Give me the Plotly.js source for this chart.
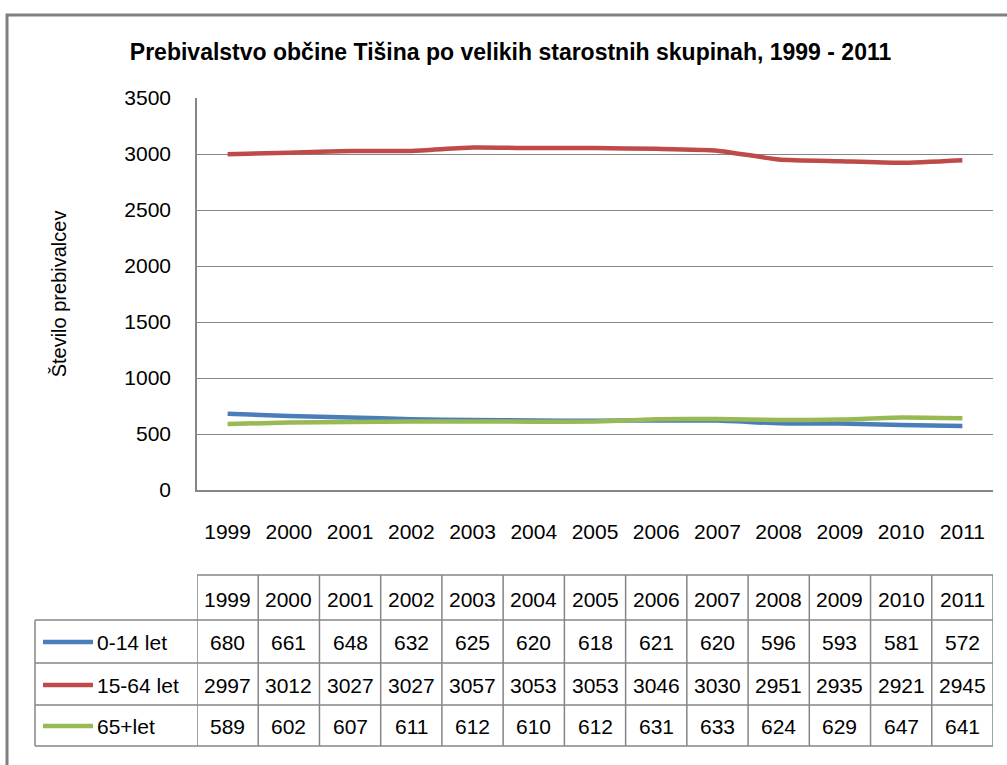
<!DOCTYPE html>
<html>
<head>
<meta charset="utf-8">
<script src="https://cdn.plot.ly/plotly-3.0.1.min.js"></script>
<style>
body{margin:0;background:#fff;}
#chart{width:1007px;height:765px;}
</style>
</head>
<body>
<div id="chart"></div>
<script>
var years = ['1999','2000','2001','2002','2003','2004','2005','2006','2007','2008','2009','2010','2011'];
var names = ['0-14 let', '15-64 let', '65+let'];
var kids = [680, 661, 648, 632, 625, 620, 618, 621, 620, 596, 593, 581, 572];
var adults = [2997, 3012, 3027, 3027, 3057, 3053, 3053, 3046, 3030, 2951, 2935, 2921, 2945];
var seniors = [589, 602, 607, 611, 612, 610, 612, 631, 633, 624, 629, 647, 641];
var colors = ['#4A7EBB', '#BE4B48', '#98B954'];
var series = [kids, adults, seniors];

var font = 'Liberation Sans, Arial, sans-serif';
var gridCol = '#868686';

// plot area in pixels, used to place the table under it
var T = 98, B = 490, L = 197, R = 993;
function py(p){ return (B - p) / (B - T); }
function px(p){ return (p - L) / (R - L); }

var data = [];
for (var s = 0; s < 3; s++) {
  data.push({
    x: years,
    y: series[s],
    name: names[s],
    type: 'scatter',
    mode: 'lines',
    line: {color: colors[s], width: 4.5, shape: 'spline', smoothing: 0.5},
    hoverinfo: 'x+y+name'
  });
}

// table rows (pixel y)
var rowLines = [575, 620, 663, 705, 746];
var rowMid = [599, 642, 685, 726];

var shapes = [];
var ann = [];

// outer border
shapes.push({type:'rect', xref:'paper', yref:'paper', x0: px(7), x1: px(1015), y0: py(775), y1: py(15),
  line:{color:'#7f7f7f', width:3}, layer:'below'});

// horizontal table lines
shapes.push({type:'line', xref:'paper', yref:'paper', x0:0, x1:1, y0:py(rowLines[0]), y1:py(rowLines[0]), line:{color:gridCol,width:1.5}});
for (var r = 1; r < rowLines.length; r++) {
  shapes.push({type:'line', xref:'paper', yref:'paper', x0:px(35), x1:1, y0:py(rowLines[r]), y1:py(rowLines[r]), line:{color:gridCol,width:1.5}});
}
// vertical table lines
shapes.push({type:'line', xref:'paper', yref:'paper', x0:px(35), x1:px(35), y0:py(rowLines[1]), y1:py(rowLines[4]), line:{color:gridCol,width:1.5}});
for (var i = 0; i <= years.length; i++) {
  shapes.push({type:'line', xref:'x', yref:'paper', x0:i-0.5, x1:i-0.5, y0:py(rowLines[0]), y1:py(rowLines[4]), line:{color:gridCol,width:1.5}});
}

var cellFont = {family:font, size:21, color:'#000'};
// header cells
for (var i = 0; i < years.length; i++) {
  ann.push({xref:'x', yref:'paper', x:i, y:py(rowMid[0]), yanchor:'middle', text:years[i], showarrow:false, font:cellFont});
}
// legend + value cells
for (var s = 0; s < 3; s++) {
  var yy = py(rowMid[s+1]);
  shapes.push({type:'line', xref:'paper', yref:'paper', x0:px(43), x1:px(93), y0:yy, y1:yy, line:{color:colors[s], width:4.5}});
  ann.push({xref:'paper', yref:'paper', x:px(95), y:yy, xanchor:'left', yanchor:'middle', text:names[s], showarrow:false, font:cellFont});
  for (var i = 0; i < years.length; i++) {
    ann.push({xref:'x', yref:'paper', x:i, y:yy, yanchor:'middle', text:String(series[s][i]), showarrow:false, font:cellFont});
  }
}

var layout = {
  width: 1007,
  height: 765,
  margin: {l: L, r: 1007 - R, t: T, b: 765 - B},
  paper_bgcolor: '#fff',
  plot_bgcolor: '#fff',
  showlegend: false,
  title: {
    text: '<b>Prebivalstvo občine Tišina po velikih starostnih skupinah, 1999 - 2011</b>',
    x: 0.507, xanchor: 'center', y: 0.932, yanchor: 'middle',
    font: {family: font, size: 23, color: '#000'}
  },
  xaxis: {
    type: 'category',
    showline: true, linecolor: gridCol, linewidth: 1.5,
    showgrid: false, ticks: '',
    ticklabelstandoff: 22,
    tickfont: {family: font, size: 21, color: '#000'},
    range: [-0.5, years.length - 0.5]
  },
  yaxis: {
    range: [0, 3500],
    tickvals: [0, 500, 1000, 1500, 2000, 2500, 3000, 3500],
    showline: true, linecolor: gridCol, linewidth: 1.5,
    showgrid: true, gridcolor: gridCol, gridwidth: 1,
    zeroline: false, ticks: '',
    ticklabelstandoff: 20,
    tickfont: {family: font, size: 21, color: '#000'},
    title: {text: 'Število prebivalcev', standoff: 52, font: {family: font, size: 20, color: '#000'}}
  },
  shapes: shapes,
  annotations: ann
};

Plotly.newPlot('chart', data, layout, {displayModeBar: false});
</script>
</body>
</html>
